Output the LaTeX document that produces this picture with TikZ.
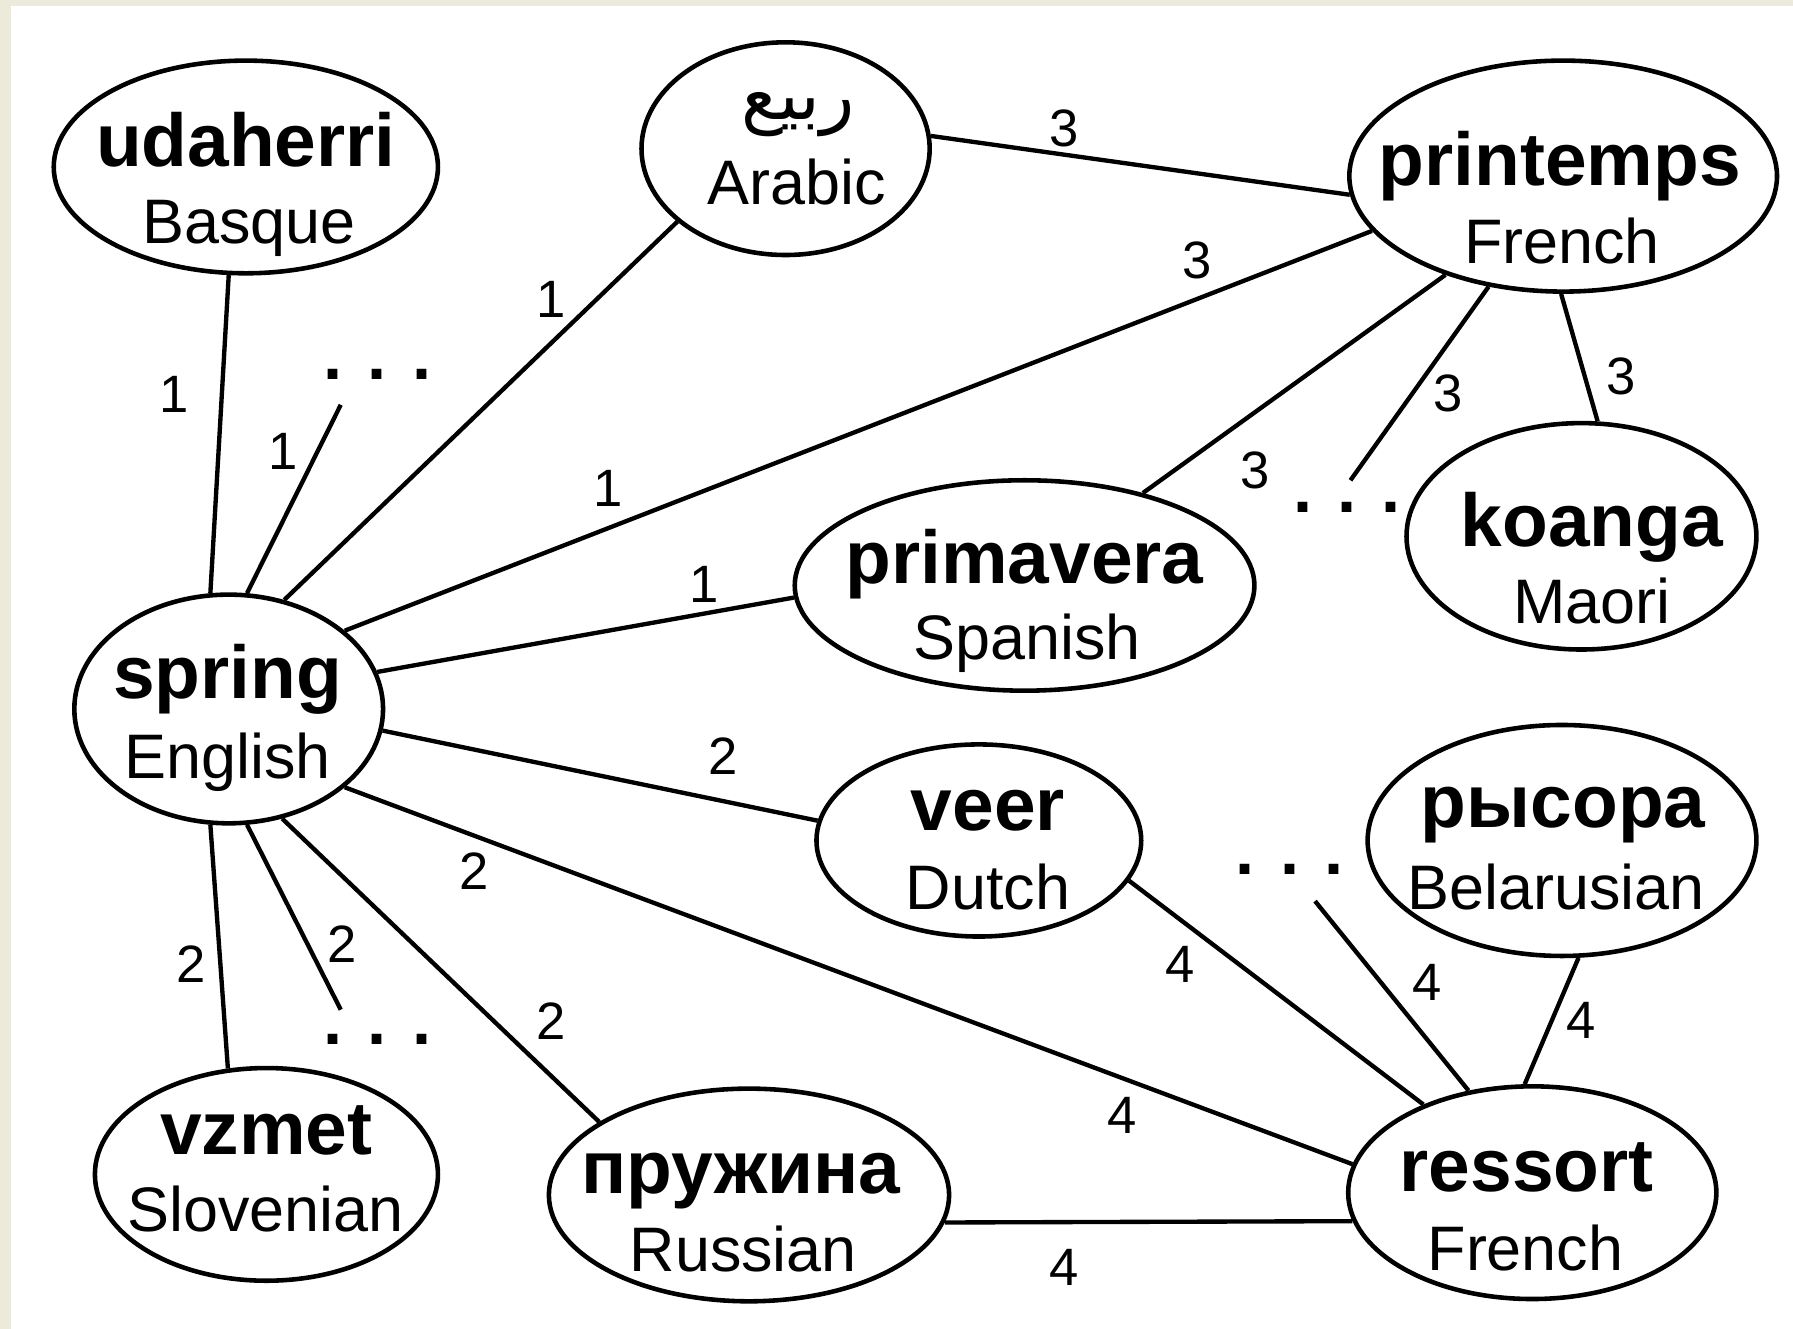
\documentclass[tikz,border=0pt]{standalone}
\usepackage{fontspec}
\setmainfont{Liberation Sans}
\newfontfamily\arabicfont[Script=Arabic]{DejaVu Sans}
\TeXXeTstate=1
\usetikzlibrary{shapes.geometric}
\definecolor{cream}{RGB}{236,234,218}
\tikzset{
  ell/.style={draw, ellipse, line width=4pt, inner sep=0pt},
  wd/.style={font=\bfseries\fontsize{65.5}{70}\selectfont, inner sep=0pt, anchor=base},
  lang/.style={font=\fontsize{55}{60}\selectfont, inner sep=0pt, anchor=base},
  wt/.style={font=\fontsize{46}{50}\selectfont, inner sep=0pt},
  dotsnode/.style={font=\bfseries\fontsize{60}{60}\selectfont, inner sep=0pt, anchor=base},
  edge/.style={line width=3.8pt},
}
\begin{document}
\begin{tikzpicture}[x=1pt,y=-1pt]
\useasboundingbox (0,0) rectangle (1568,1162);
\fill[cream] (0,0) rectangle (1568,1162);
\fill[white] (10,5) rectangle (1568,1162);

% ellipses
\node[ell, minimum width=336, minimum height=186] (ud) at (215,146) {};
\node[ell, minimum width=252, minimum height=186] (ar) at (687,130) {};
\node[ell, minimum width=374, minimum height=202] (pr) at (1367,154) {};
\node[ell, minimum width=306, minimum height=198] (ko) at (1383,469) {};
\node[ell, minimum width=402, minimum height=184] (pv) at (896,512) {};
\node[ell, minimum width=270, minimum height=200] (sp) at (200,620) {};
\node[ell, minimum width=284, minimum height=168] (ve) at (856,735) {};
\node[ell, minimum width=340, minimum height=202] (ry) at (1366,735) {};
\node[ell, minimum width=300, minimum height=186] (vz) at (233,1027) {};
\node[ell, minimum width=350, minimum height=186] (ru) at (655,1045) {};
\node[ell, minimum width=322, minimum height=186] (re) at (1340,1043) {};

% texts
\node[wd] (udw) at (215,146) {udaherri};
\node[lang] (udl) at (218,213) {Basque};
\node[inner sep=0pt, font=\arabicfont\fontsize{62}{66}\selectfont] (arw) at (698,100) {\beginR ربيع\endR};
\node[lang] (arl) at (697,179) {Arabic};
\node[wd] (prw) at (1364,162) {printemps};
\node[lang] (prl) at (1366,230) {French};
\node[wd] (kow) at (1392,478) {koanga};
\node[lang] (kol) at (1392,545) {Maori};
\node[wd] (pvw) at (896,510) {primavera};
\node[lang] (pvl) at (898,577) {Spanish};
\node[wd] (spw) at (199,611) {spring};
\node[lang] (spl) at (199,681) {English};
\node[wd] (vew) at (864,726) {veer};
\node[lang] (vel) at (864,795) {Dutch};
\node[wd] (ryw) at (1367,724) {рысора};
\node[lang] (ryl) at (1361,795) {Belarusian};
\node[wd] (vzw) at (233,1010) {vzmet};
\node[lang] (vzl) at (232,1077) {Slovenian};
\node[wd] (ruw) at (648,1044) {пружина};
\node[lang] (rul) at (650,1112) {Russian};
\node[wd] (rew) at (1335,1042) {ressort};
\node[lang] (rel) at (1334,1111) {French};

% dots
\node[dotsnode] (d1) at (330,332) {. . .};
\node[dotsnode] (d2) at (330,913) {. . .};
\node[dotsnode] (d3) at (1178,448) {. . .};
\node[dotsnode] (d4) at (1128,765) {. . .};
\coordinate (d1e) at (298,354);
\coordinate (d2e) at (298,883);
\coordinate (d3e) at (1181,420);
\coordinate (d4e) at (1150,788);

% edges
\draw[edge] (ud.261) -- (sp.99);
\draw[edge] (sp.81) -- (d1e);
\draw[edge] (sp.63) -- (ar.214);
\draw[edge] (sp.34) -- (pr.196);
\draw[edge] (sp.14) -- (pv.183);
\draw[edge] (sp.352) -- (ve.173);
\draw[edge] (sp.326) -- (re.171.5);
\draw[edge] (sp.296) -- (ru.154);
\draw[edge] (sp.279) -- (d2e);
\draw[edge] (sp.261) -- (vz.110);
\draw[edge] (ar.5) -- (pr.185);
\draw[edge] (pr.220) -- (pv.38);
\draw[edge] (pr.236) -- (d3e);
\draw[edge] (pr.269) -- (ko.82);
\draw[edge] (ve.345) -- (re.141);
\draw[edge] (d4e) -- (re.122);
\draw[edge] (ry.278) -- (re.94);
\draw[edge] (ru.352) -- (re.189);

% weights
\node[wt] (w1) at (152,345) {1};
\node[wt] (w2) at (248,395) {1};
\node[wt] (w3) at (482,262) {1};
\node[wt] (w4) at (532,427) {1};
\node[wt] (w5) at (1047,228) {3};
\node[wt] (w6) at (616,511) {1};
\node[wt] (w7) at (632,661) {2};
\node[wt] (w8) at (415,762) {2};
\node[wt] (w9) at (981,975) {4};
\node[wt] (w10) at (482,893) {2};
\node[wt] (w11) at (299,826) {2};
\node[wt] (w12) at (167,843) {2};
\node[wt] (w13) at (931,112) {3};
\node[wt] (w14) at (1098,411) {3};
\node[wt] (w15) at (1266,344) {3};
\node[wt] (w16) at (1418,329) {3};
\node[wt] (w17) at (1032,843) {4};
\node[wt] (w18) at (1248,859) {4};
\node[wt] (w19) at (1383,892) {4};
\node[wt] (w20) at (931,1108) {4};
\end{tikzpicture}
\end{document}
